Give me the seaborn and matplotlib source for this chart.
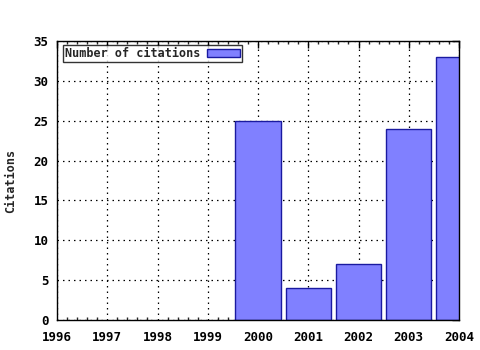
import matplotlib
matplotlib.use("Agg")
import matplotlib.pyplot as plt
import seaborn as sns
import pandas as pd
from matplotlib.ticker import MultipleLocator
from matplotlib.patches import Patch

years = [2000, 2001, 2002, 2003, 2004]
citations = [25, 4, 7, 24, 33]
xticks = [1996, 1997, 1998, 1999, 2000, 2001, 2002, 2003, 2004]
yticks = [0, 5, 10, 15, 20, 25, 30, 35]

sns.set_theme(style="white")
plt.rcParams['font.family'] = ['DejaVu Sans Mono', 'DejaVu Sans']
plt.rcParams['font.weight'] = 'bold'

df = pd.DataFrame({"year": years, "citations": citations})

fig = plt.figure(figsize=(4.8, 3.5), dpi=100)
ax = fig.add_axes([57/480, 30/350, (459-57)/480, (320-41)/350])

sns.barplot(data=df, x="year", y="citations", native_scale=True, width=0.9,
            color="#8080ff", saturation=1, edgecolor="#1a1aa0", linewidth=1.0,
            ax=ax, zorder=2)

ax.set_xlim(1996, 2004)
ax.set_ylim(0, 35)
ax.set_xticks(xticks)
ax.set_xticklabels([str(x) for x in xticks])
ax.set_yticks(yticks)
ax.xaxis.set_minor_locator(MultipleLocator(0.2))
ax.tick_params(axis='both', which='major', direction='in', length=5, width=1,
               colors='black', labelsize=9, top=True, right=True)
ax.tick_params(axis='x', which='major', pad=8)
ax.tick_params(axis='y', which='major', pad=6)
ax.tick_params(axis='x', which='minor', direction='in', length=2.5, width=1,
               top=True, bottom=True)
for lab in ax.get_xticklabels() + ax.get_yticklabels():
    lab.set_fontweight('bold')
ax.grid(True, which='major', linestyle=(0, (1.2, 3.2)), color='black', linewidth=0.9, zorder=0)
ax.set_axisbelow(True)
for s in ax.spines.values():
    s.set_color('black')
    s.set_linewidth(1)
ax.set_xlabel("")
ax.set_ylabel("Citations", fontsize=8.5, fontweight='bold', labelpad=12)

leg = ax.legend(handles=[Patch(facecolor="#8080ff", edgecolor="#1a1aa0", label="Number of citations")],
                loc='upper left', bbox_to_anchor=(0.015, 0.985), frameon=True, fancybox=False,
                prop={'size': 8.5, 'weight': 'bold'}, markerfirst=False,
                handlelength=2.8, handleheight=0.6, borderpad=0.15, handletextpad=0.6,
                borderaxespad=0)
leg.get_frame().set_edgecolor('black')
leg.get_frame().set_linewidth(1)
leg.set_zorder(5)

fig.savefig("out.png", dpi=100)
